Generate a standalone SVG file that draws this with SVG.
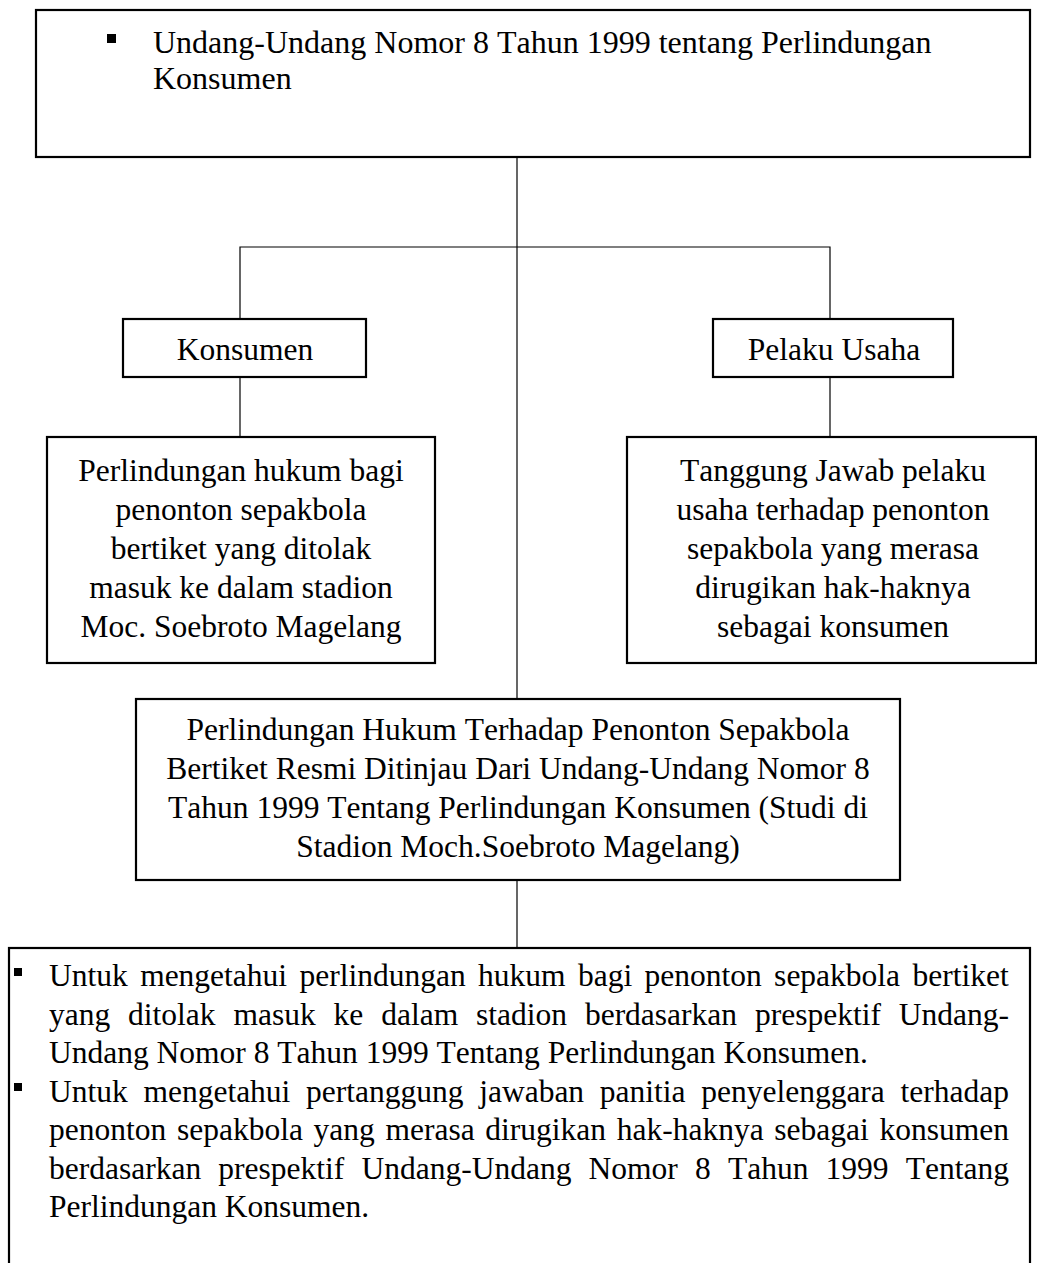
<svg xmlns="http://www.w3.org/2000/svg" width="1037" height="1263" viewBox="0 0 1037 1263">
<style>
.box{fill:#ffffff;stroke:#000000;stroke-width:2.2}
.conn{fill:none;stroke:#000000;stroke-width:1.2}
text{font-family:"Liberation Serif","Times New Roman",serif;font-size:31.5px;fill:#000000;font-kerning:none}
.c{text-anchor:middle}
.bul{fill:#000000}
</style>
<rect width="1037" height="1263" fill="#ffffff"/>
<g id="connectors">
<path class="conn" d="M517,157 V699"/>
<path class="conn" d="M240,319 V247 H830 V319"/>
<path class="conn" d="M240,377 V437"/>
<path class="conn" d="M830,377 V437"/>
<path class="conn" d="M517,880 V948"/>
</g>
<g id="node-uu">
<rect class="box" x="36" y="10" width="994" height="147"/>
<rect class="bul" x="107" y="34" width="9" height="9"/>
<text x="153" y="53" style="font-size:32px">Undang-Undang Nomor 8 Tahun 1999 tentang Perlindungan</text>
<text x="153" y="89" style="font-size:32px">Konsumen</text>
</g>
<g id="node-konsumen">
<rect class="box" x="123" y="319" width="243" height="58"/>
<text class="c" x="245" y="360">Konsumen</text>
</g>
<g id="node-pelaku">
<rect class="box" x="713" y="319" width="240" height="58"/>
<text class="c" x="834" y="360">Pelaku Usaha</text>
</g>
<g id="node-perlindungan">
<rect class="box" x="47" y="437" width="388" height="226"/>
<text class="c" x="241" y="481">Perlindungan hukum bagi</text>
<text class="c" x="241" y="520">penonton sepakbola</text>
<text class="c" x="241" y="559">bertiket yang ditolak</text>
<text class="c" x="241" y="598">masuk ke dalam stadion</text>
<text class="c" x="241" y="637">Moc. Soebroto Magelang</text>
</g>
<g id="node-tanggungjawab">
<rect class="box" x="627" y="437" width="409" height="226"/>
<text class="c" x="833" y="481">Tanggung Jawab pelaku</text>
<text class="c" x="833" y="520">usaha terhadap penonton</text>
<text class="c" x="833" y="559">sepakbola yang merasa</text>
<text class="c" x="833" y="598">dirugikan hak-haknya</text>
<text class="c" x="833" y="637">sebagai konsumen</text>
</g>
<g id="node-judul">
<rect class="box" x="136" y="699" width="764" height="181"/>
<text class="c" x="518" y="740">Perlindungan Hukum Terhadap Penonton Sepakbola</text>
<text class="c" x="518" y="779">Bertiket Resmi Ditinjau Dari Undang-Undang Nomor 8</text>
<text class="c" x="518" y="818">Tahun 1999 Tentang Perlindungan Konsumen (Studi di</text>
<text class="c" x="518" y="857">Stadion Moch.Soebroto Magelang)</text>
</g>
<g id="node-tujuan">
<rect class="box" x="9" y="948" width="1021" height="330"/>
<rect class="bul" x="14" y="968" width="8" height="8"/>
<rect class="bul" x="14" y="1083" width="8" height="8"/>
<text x="49" y="986" style="word-spacing:4.5px">Untuk mengetahui perlindungan hukum bagi penonton sepakbola bertiket</text>
<text x="49" y="1024.5" style="word-spacing:10px">yang ditolak masuk ke dalam stadion berdasarkan prespektif Undang-</text>
<text x="49" y="1063">Undang Nomor 8 Tahun 1999 Tentang Perlindungan Konsumen.</text>
<text x="49" y="1101.5" style="word-spacing:7.8px">Untuk mengetahui pertanggung jawaban panitia penyelenggara terhadap</text>
<text x="49" y="1140" style="word-spacing:2.8px">penonton sepakbola yang merasa dirugikan hak-haknya sebagai konsumen</text>
<text x="49" y="1178.5" style="word-spacing:9.3px">berdasarkan prespektif Undang-Undang Nomor 8 Tahun 1999 Tentang</text>
<text x="49" y="1217">Perlindungan Konsumen.</text>
</g>
</svg>
